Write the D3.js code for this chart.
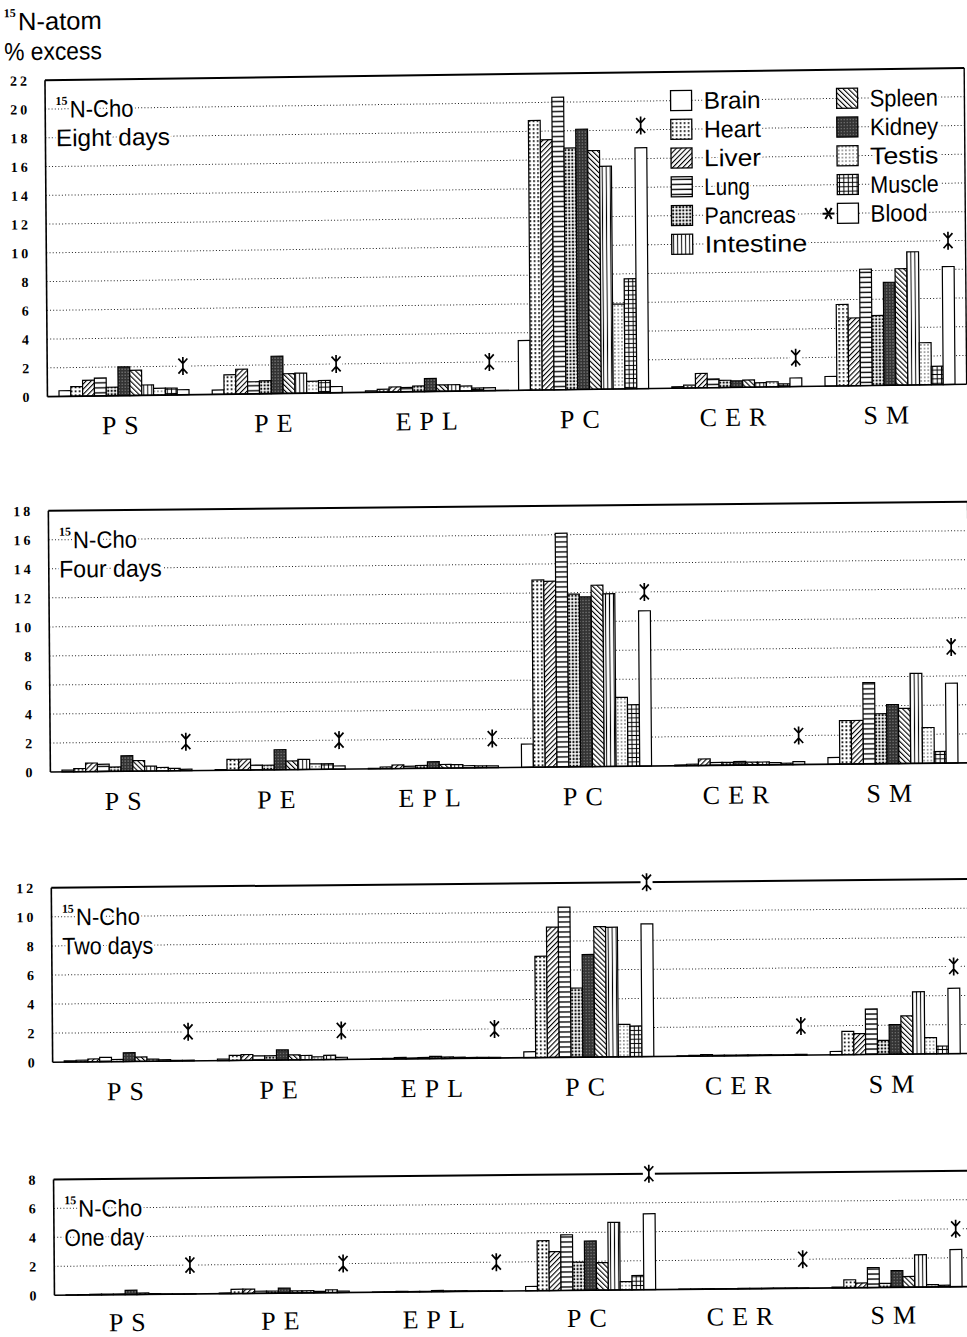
<!DOCTYPE html>
<html><head><meta charset="utf-8">
<script src="https://cdn.jsdelivr.net/npm/d3@7"></script>
<style>
body{margin:0;background:#fff;}
svg{display:block;}
</style></head><body>
<svg id="chart" width="967" height="1337"></svg>
<script>
// ---------- data ----------
const categories = ["PS","PE","EPL","PC","CER","SM"];
const series = ["Brain","Heart","Liver","Lung","Pancreas","Kidney","Spleen","Intestine","Testis","Muscle","Blood"];
const legendLeft = ["Brain","Heart","Liver","Lung","Pancreas","Intestine"];
const legendRight = ["Spleen","Kidney","Testis","Muscle","Blood"];
const panelTitles = ["Eight days","Four days","Two days","One day"];
const panelMax = [22,18,12,8];

// values per category (rows: PS, PE, EPL, PC, CER, SM), columns in series order
const eightDays = [
  [0.4, 0.67, 1.1, 1.25, 0.6, 2.0, 1.75, 0.72, 0.48, 0.48, 0.36],
  [0.3, 1.35, 1.73, 0.84, 0.9, 2.6, 1.37, 1.4, 0.82, 0.87, 0.43],
  [0.1, 0.2, 0.35, 0.3, 0.4, 0.9, 0.45, 0.45, 0.35, 0.2, 0.2],
  [3.46, 18.75, 17.4, 20.35, 16.8, 18.1, 16.6, 15.5, 5.9, 7.65, 16.75],
  [0.1, 0.2, 1.0, 0.6, 0.5, 0.45, 0.5, 0.3, 0.35, 0.2, 0.6],
  [0.67, 5.67, 4.72, 8.1, 4.86, 7.16, 8.1, 9.26, 2.93, 1.28, 8.2]
];
const fourDays = [
  [0.12, 0.22, 0.59, 0.5, 0.3, 1.07, 0.73, 0.34, 0.24, 0.17, 0.1],
  [0.05, 0.75, 0.75, 0.33, 0.32, 1.38, 0.6, 0.7, 0.38, 0.38, 0.22],
  [0.03, 0.12, 0.25, 0.15, 0.2, 0.45, 0.25, 0.23, 0.15, 0.13, 0.12],
  [1.6, 12.9, 12.8, 16.1, 11.9, 11.7, 12.5, 11.9, 4.75, 4.24, 10.7],
  [0.05, 0.1, 0.45, 0.2, 0.2, 0.25, 0.2, 0.2, 0.15, 0.1, 0.2],
  [0.46, 3.0, 3.0, 5.6, 3.45, 4.07, 3.8, 6.2, 2.46, 0.8, 5.5]
];
const twoDays = [
  [0.08, 0.12, 0.2, 0.3, 0.15, 0.6, 0.3, 0.15, 0.1, 0.05, 0.05],
  [0.1, 0.35, 0.4, 0.3, 0.3, 0.7, 0.35, 0.3, 0.2, 0.3, 0.15],
  [0.03, 0.05, 0.1, 0.06, 0.08, 0.15, 0.1, 0.08, 0.05, 0.05, 0.05],
  [0.41, 6.97, 8.97, 10.34, 4.76, 7.06, 8.97, 8.92, 2.23, 2.11, 9.13],
  [0.03, 0.05, 0.1, 0.05, 0.05, 0.05, 0.05, 0.05, 0.03, 0.03, 0.05],
  [0.23, 1.6, 1.44, 3.13, 0.96, 2.04, 2.63, 4.28, 1.12, 0.53, 4.5]
];
const oneDay = [
  [0.02, 0.03, 0.05, 0.05, 0.05, 0.3, 0.1, 0.05, 0.03, 0.02, 0.02],
  [0.05, 0.3, 0.3, 0.15, 0.15, 0.35, 0.15, 0.15, 0.1, 0.2, 0.1],
  [0.02, 0.03, 0.05, 0.03, 0.03, 0.08, 0.05, 0.05, 0.03, 0.03, 0.03],
  [0.3, 3.45, 2.69, 3.84, 1.95, 3.4, 1.9, 4.67, 0.57, 0.99, 5.24],
  [0.02, 0.02, 0.03, 0.02, 0.02, 0.03, 0.02, 0.02, 0.02, 0.02, 0.02],
  [0.05, 0.55, 0.32, 1.38, 0.28, 1.15, 0.74, 2.23, 0.16, 0.11, 2.57]
];
// asterisk (significance mark over Blood) heights per category
const eightDaysMark = [2, 2, 2, 18.3, 2, 10];
const fourDaysMark  = [2, 2, 2, 12, 2, 8];
const twoDaysMark   = [2, 2, 2, 12, 2, 6];
const oneDayMark    = [2, 2, 2, 8, 2, 4];

const panelValues = [eightDays, fourDays, twoDays, oneDay];
const panelMarks = [eightDaysMark, fourDaysMark, twoDaysMark, oneDayMark];

// ---------- layout ----------
const svg = d3.select("#chart");
const defs = svg.append("defs");

// the scanned page is slightly skewed: right side higher, lower panels shifted right
const shearX = 0.0078;
const panelTilt = [0.0135, 0.010, 0.0095, 0.0095];
const skew = b => `matrix(1,${-b},${shearX},1,${-shearX*668},${b*483})`;

const panelTop  = [74.5, 506.5, 883.7, 1175.3];
const panelBase = [390.8, 767.7, 1058.1, 1291.2];
const labelPad = [20, 20, 20, 18];
const plotLeft = 49.6, step = 153.2;
const plotRight = plotLeft + step*6;

const x0 = d3.scaleBand().domain(categories).range([plotLeft, plotRight]).paddingInner(0).paddingOuter(0);
const x1 = d3.scaleBand().domain(series).range([11.6, 141.6]).padding(0);

const gothic = "'Liberation Sans','Arimo','DejaVu Sans',sans-serif";
const serif = "'Liberation Serif','DejaVu Serif',serif";
const CH = 11.4; // character pitch of the typewriter-like labels

// ---------- patterns ----------
function pat(id, w, h, build, transform){
  const p = defs.append("pattern").attr("id",id).attr("patternUnits","userSpaceOnUse")
    .attr("width",w).attr("height",h);
  if (transform) p.attr("patternTransform", transform);
  p.append("rect").attr("width",w).attr("height",h).attr("fill","#fff");
  build(p);
}
pat("p-Heart",4,4,p=>p.append("rect").attr("x",1).attr("y",1).attr("width",1.7).attr("height",1.7).attr("fill","#000"));
pat("p-Liver",3.6,3.6,p=>p.append("rect").attr("x",0).attr("y",0).attr("width",1.1).attr("height",3.6).attr("fill","#000"),"rotate(45)");
pat("p-Spleen",3.6,3.6,p=>p.append("rect").attr("x",0).attr("y",0).attr("width",1.1).attr("height",3.6).attr("fill","#000"),"rotate(-45)");
pat("p-Lung",5,5,p=>p.append("rect").attr("x",0).attr("y",2).attr("width",5).attr("height",1.4).attr("fill","#000"));
pat("p-Pancreas",3.4,3.4,p=>p.append("rect").attr("x",0.6).attr("y",0.6).attr("width",2.1).attr("height",2.1).attr("fill","#111"));
pat("p-Kidney",3,3,p=>{
  p.select("rect").attr("fill","#333");
  p.append("rect").attr("x",1).attr("y",1).attr("width",1).attr("height",1).attr("fill","#aaa");
});
pat("p-Intestine",4,4,p=>p.append("rect").attr("x",1.5).attr("y",0).attr("width",1).attr("height",4).attr("fill","#000"));
pat("p-Testis",3.6,3.6,p=>p.append("rect").attr("x",1.2).attr("y",1.2).attr("width",1.1).attr("height",1.1).attr("fill","#000"));
pat("p-Muscle",4.4,4.4,p=>{
  p.append("rect").attr("x",1.7).attr("y",0).attr("width",1).attr("height",4.4).attr("fill","#000");
  p.append("rect").attr("x",0).attr("y",1.7).attr("width",4.4).attr("height",1).attr("fill","#000");
});
const fillOf = s => (s==="Brain"||s==="Blood") ? "#fff" : `url(#p-${s})`;

// asterisk glyph (significance mark)
const markPath = "M0,-9V9M-4.5,-7.5L0,-2.5L4.5,-7.5M-4.5,7.5L0,2.5L4.5,7.5";

function haloText(sel){
  return sel.attr("stroke","#fff").attr("stroke-width",5).attr("stroke-linejoin","round")
    .attr("paint-order","stroke").attr("fill","#000");
}
function condensed(sel, txt, pitch){
  return sel.text(txt).attr("textLength", txt.length*pitch).attr("lengthAdjust","spacingAndGlyphs");
}
// text vertically centred on yy, with a small superscript prefix
function supLabel(parent, x, yy, sup, main, width, size){
  const t = parent.append("text").attr("x",x).attr("y",yy)
    .attr("font-family",gothic).attr("font-size",size);
  t.append("tspan").attr("font-family",serif).attr("font-weight","bold").attr("font-size",12)
    .attr("dy", 0.36*size - 0.53*size).text(sup);
  t.append("tspan").attr("x",x+14).attr("dy", 0.53*size).attr("textLength",width)
    .attr("lengthAdjust","spacingAndGlyphs").text(main);
  return t;
}

// ---------- panels ----------
panelValues.forEach((vals, pi) => {
  const max = panelMax[pi];
  const y = d3.scaleLinear().domain([0,max]).range([panelBase[pi], panelTop[pi]]);
  const g = svg.append("g").attr("transform", skew(panelTilt[pi]));
  const ticks = d3.range(0, max+1, 2);

  // dotted gridlines
  g.append("g").selectAll("line").data(ticks.filter(t=>t>0 && t<max)).join("line")
    .attr("x1",plotLeft).attr("x2",plotRight)
    .attr("y1",d=>y(d)).attr("y2",d=>y(d))
    .attr("stroke","#222").attr("stroke-width",1).attr("stroke-dasharray","1,2.2");

  // bars
  const rows = categories.flatMap((c,ci)=>series.map((s,si)=>({c,s,v:vals[ci][si]})));
  g.append("g").selectAll("rect").data(rows).join("rect")
    .attr("x",d=>x0(d.c)+x1(d.s))
    .attr("width",x1.bandwidth())
    .attr("y",d=>y(d.v))
    .attr("height",d=>y(0)-y(d.v))
    .attr("fill",d=>fillOf(d.s))
    .attr("stroke","#000").attr("stroke-width",1.2);

  // frame
  g.append("line").attr("x1",plotLeft).attr("x2",plotRight).attr("y1",y(max)).attr("y2",y(max))
    .attr("stroke","#000").attr("stroke-width",2);
  g.append("line").attr("x1",plotLeft).attr("x2",plotRight).attr("y1",y(0)).attr("y2",y(0))
    .attr("stroke","#000").attr("stroke-width",1.6);
  g.append("line").attr("x1",plotLeft).attr("x2",plotLeft).attr("y1",y(max)).attr("y2",y(0))
    .attr("stroke","#000").attr("stroke-width",1.6);
  g.append("line").attr("x1",plotRight).attr("x2",plotRight).attr("y1",y(max)).attr("y2",y(0))
    .attr("stroke","#000").attr("stroke-width",1.4);

  // asterisks over Blood
  const marks = g.append("g").selectAll("g").data(categories.map((c,ci)=>({c,v:panelMarks[pi][ci]}))).join("g")
    .attr("transform",d=>`translate(${x0(d.c)+x1("Blood")+x1.bandwidth()/2},${y(d.v)})`);
  marks.append("rect").attr("x",-6).attr("y",-10).attr("width",12).attr("height",20).attr("fill","#fff");
  marks.append("path").attr("d",markPath).attr("stroke","#000").attr("stroke-width",1.7).attr("fill","none");

  // y axis
  const ya = g.append("g").attr("transform",`translate(${plotLeft},0)`)
    .call(d3.axisLeft(y).tickValues(ticks).tickSize(0).tickPadding(15).tickFormat(d3.format("d")));
  ya.select(".domain").remove();
  ya.selectAll("text").attr("font-family",serif).attr("font-weight","bold").attr("font-size",14)
    .attr("letter-spacing","3px").attr("fill","#000");

  // category axis
  const xa = g.append("g").attr("transform",`translate(0,${y(0)})`)
    .call(d3.axisBottom(x0).tickSize(0).tickPadding(labelPad[pi]));
  xa.select(".domain").remove();
  xa.selectAll("text").attr("font-family",serif).attr("font-size",26)
    .attr("letter-spacing","8px").attr("dx",0).attr("fill","#000");

  // panel title
  haloText(supLabel(g, 60, y(max-2), "15", "N-Cho", 64, 24));
  haloText(condensed(g.append("text").attr("x",60).attr("y",y(max-4)).attr("dy","0.36em")
    .attr("font-family",gothic).attr("font-size",24), panelTitles[pi], CH*1.0));

  // legend (first panel)
  if (pi === 0) {
    const lg = g.append("g");
    const rowY = i => y(20 - 2*i);
    const entries = legendLeft.map((s,i)=>({s,x:675,y:rowY(i)}))
      .concat(legendRight.map((s,i)=>({s,x:841,y:rowY(i)})));
    const e = lg.selectAll("g").data(entries).join("g").attr("transform",d=>`translate(${d.x},${d.y})`);
    e.append("rect").attr("x",0).attr("y",-10).attr("width",21).attr("height",20)
      .attr("fill",d=>fillOf(d.s)).attr("stroke","#000").attr("stroke-width",1.3);
    e.each(function(d){
      haloText(condensed(d3.select(this).append("text").attr("x",33).attr("dy","0.36em")
        .attr("font-family",gothic).attr("font-size",24), d.s, CH));
    });
    // asterisk in front of Blood
    const b = entries.find(d=>d.s==="Blood");
    lg.append("rect").attr("x",b.x-16).attr("y",b.y-8).attr("width",14).attr("height",16).attr("fill","#fff");
    lg.append("path").attr("transform",`translate(${b.x-9},${b.y})`)
      .attr("d","M-6,0H6M-3.2,-5.5L3.2,5.5M3.2,-5.5L-3.2,5.5").attr("stroke","#000").attr("stroke-width",2).attr("fill","none");
  }
});

// y axis title
const yt = svg.append("g").attr("fill","#000").attr("transform", skew(panelTilt[0]));
supLabel(yt, 9, 15, "15", "N-atom", 84, 25);
condensed(yt.append("text").attr("x",9).attr("y",45).attr("dy","0.36em")
  .attr("font-family",gothic).attr("font-size",25), "% excess", 12.2);
</script>
</body></html>
